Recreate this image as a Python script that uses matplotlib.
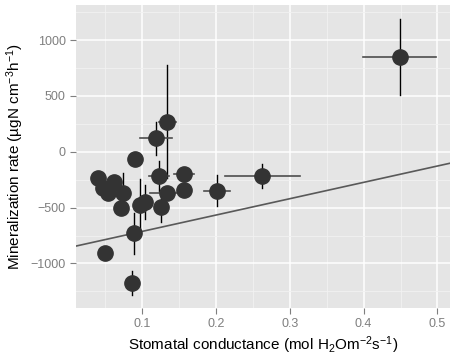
import numpy as np
import matplotlib.pyplot as plt

plt.rcParams['font.family'] = ['Liberation Sans', 'DejaVu Sans']
plt.rcParams['mathtext.fontset'] = 'custom'
plt.rcParams['mathtext.rm'] = 'Liberation Sans'
plt.rcParams['mathtext.it'] = 'Liberation Sans:italic'
plt.rcParams['mathtext.default'] = 'rm'

# stomatal conductance (mol H2O m-2 s-1) and mineralization rate per plot
gs = [0.449, 0.134, 0.119, 0.0905, 0.0405, 0.062, 0.0464, 0.054, 0.0743,
      0.0712, 0.0969, 0.1037, 0.1226, 0.134, 0.1253, 0.1564, 0.1564,
      0.0888, 0.050, 0.0865, 0.2015, 0.2624]
minz = [850, 269, 120, -68, -238, -268, -328, -373, -373,
        -507, -477, -448, -215, -373, -498, -200, -343,
        -731, -904, -1173, -349, -215]
# error half-widths (0 = none drawn)
gs_err = [0.0495, 0.0117, 0.0214, 0, 0, 0, 0, 0, 0,
          0, 0, 0, 0.014, 0.023, 0, 0.014, 0,
          0, 0, 0, 0.0176, 0.0507]
minz_err = [340, 506, 148, 0, 40, 40, 0, 0, 185,
            0, 230, 150, 135, 0, 130, 0, 0,
            180, 0, 110, 137, 105]

# linear fit drawn across the panel
slope = 1463
intercept = -859

fig = plt.figure(figsize=(4.5, 3.62), dpi=100)
ax = fig.add_axes([0.169, 0.149, 0.831, 0.837])
ax.set_facecolor('#E5E5E5')

ax.set_xlim(0.0103, 0.517)
ax.set_ylim(-1399, 1313)

ax.set_xticks([0.1, 0.2, 0.3, 0.4, 0.5])
ax.set_xticks([0.05, 0.15, 0.25, 0.35, 0.45], minor=True)
ax.set_yticks([-1000, -500, 0, 500, 1000])
ax.set_yticks([-1250, -750, -250, 250, 750, 1250], minor=True)
ax.grid(which='major', color='white', lw=1.1)
ax.grid(which='minor', color='#F2F2F2', lw=0.6)
ax.set_axisbelow(True)
for s in ax.spines.values():
    s.set_visible(False)
ax.tick_params(which='major', color='#7F7F7F', labelcolor='#7F7F7F',
               labelsize=9, length=4)
ax.tick_params(which='minor', length=0)

xs = np.array(ax.get_xlim())
ax.plot(xs, intercept + slope * xs, color='#595959', lw=1.2, zorder=2)

for x, y, xe, ye in zip(gs, minz, gs_err, minz_err):
    if xe:
        ax.plot([x - xe, x + xe], [y, y], color='#4D4D4D', lw=1.2, zorder=3)
    if ye:
        ax.plot([x, x], [y - ye, y + ye], color='black', lw=1.0, zorder=3)
ax.plot(gs, minz, 'o', color='#333333', ms=11, zorder=4)

ax.set_xlabel('Stomatal conductance (mol H$_2$Om$^{-2}$s$^{-1}$)',
              fontsize=11, labelpad=3)
ax.set_ylabel('Mineralization rate (\u00b5gN cm$^{-3}$h$^{-1}$)',
              fontsize=11, labelpad=3)

fig.savefig('out.png', dpi=100)
